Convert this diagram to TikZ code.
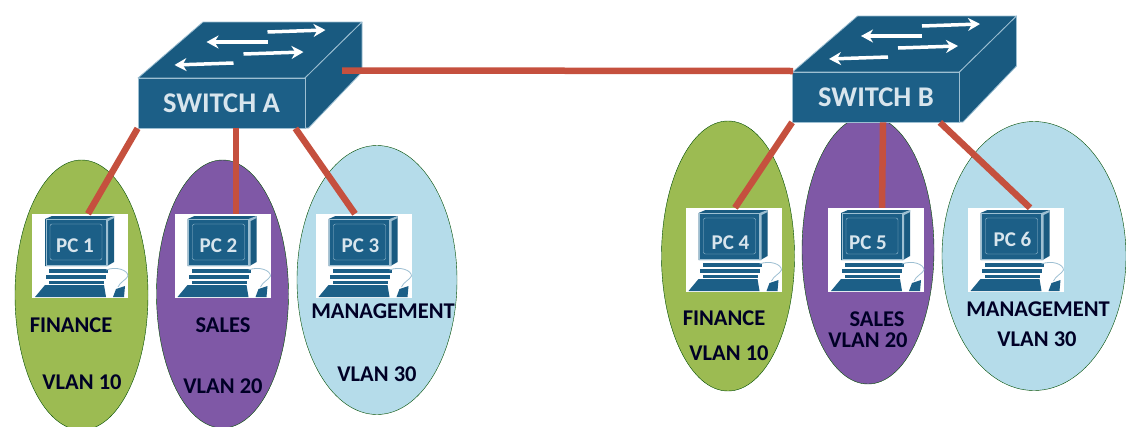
\documentclass[tikz,border=0pt]{standalone}
\usepackage{fontspec}
\setmainfont{Carlito}
\usetikzlibrary{arrows.meta,shapes.geometric,positioning}
\definecolor{swblue}{HTML}{1C5F87}
\definecolor{swdark}{HTML}{195A80}
\definecolor{swedge}{HTML}{9DBFD2}
\definecolor{wire}{HTML}{C5503E}
\definecolor{vgreen}{HTML}{9CBB52}
\definecolor{vpurple}{HTML}{7F58A6}
\definecolor{vblue}{HTML}{B5DCEA}
\tikzset{
  basic/.style   = {draw=black!70!green, thin, ellipse, inner sep=0pt},
  finance/.style = {basic, fill=vgreen, minimum width=133pt, minimum height=270pt},
  sales/.style   = {basic, fill=vpurple, minimum width=132pt, minimum height=268pt},
  mgmt/.style    = {basic, fill=vblue, minimum height=269pt},
  front/.style   = {draw=swedge, thick, fill=swblue, text=swedge!40!white, inner sep=0pt,
                   minimum width=167pt, minimum height=50pt, font=\bfseries\fontsize{28.5}{28.5}\selectfont},
  pcbox/.style   = {fill=white, inner sep=0pt, minimum width=96pt, minimum height=84pt},
  pclabel/.style = {text=swedge!40!white, inner sep=0pt, font=\bfseries\fontsize{21}{21}\selectfont},
  vtext/.style   = {inner sep=0pt, text=black!85!blue, font=\bfseries\fontsize{22.5}{22.5}\selectfont},
  link/.style    = {draw=wire, line width=6.5pt},
  flow/.style    = {draw=white, line width=3.5pt, -{Stealth[length=12pt,width=13pt]}},
  pics/switchbody/.style = {code={
    \draw[swedge, thick, fill=swdark, line join=round] (-83.5,-25) -- (-18.5,-81) -- (140.5,-81) -- (83.5,-25) -- cycle;
    \draw[swedge, thick, fill=swdark, line join=round] (83.5,-25) -- (140.5,-81) -- (140.5,-31) -- (87,25) -- (83.5,25) -- cycle;
    \draw[flow] (46,-71) -- (104,-73);
    \draw[flow] (46,-61) -- (-15,-61);
    \draw[flow] (22,-49) -- (82,-51);
    \draw[flow] (12,-40) -- (-47,-38);
  }},
  pics/pcicon/.style = {code={
    \node[pcbox] (-box) at (0,0) {};
    \begin{scope}[shift={(-48,-42)}]
      \fill[swdark] (13,5) -- (20,2) -- (82,2) -- (82,48) -- (75,52) -- (13,52) -- cycle;
      \fill[swedge] (74,5) -- (82,2) -- (82,4) -- (76,7) -- (76,52) -- (74,52) -- cycle;
      \draw[swedge, fill=swblue] (14,5) rectangle (74,51);
      \draw[swedge, fill=swblue, rounded corners=2pt] (18,10) rectangle (70,46);
      \fill[swblue] (17,55) rectangle (76,59);
      \fill[swblue] (14,61) rectangle (74,65);
      \fill[swblue] (17,67) rectangle (72,70);
      \fill[swblue] (3,83) -- (13,71) -- (72,71) -- (74,83) -- cycle;
      \fill[swblue] (81,83) -- (84,75) -- (93,72) -- (92,83) -- cycle;
      \draw[swedge, thick] (74,56) .. controls (84,52) and (96,56) .. (96,62) .. controls (94,66) and (88,68) .. (86,73);
    \end{scope}
  }}
}

\begin{document}
\begin{tikzpicture}[x=1pt,y=-1pt]
\useasboundingbox (0,0) rectangle (1126,426);
\node[finance] (vlan1) at (81.5,295) {};
\node[sales] (vlan2) at (222.5,294) {};
\node[mgmt, minimum width=160pt] (vlan3) at (377,280) {};
\node[finance] (vlan4) at (728,256) {};
\node[sales] (vlan5) at (868,250) {};
\node[mgmt, minimum width=184pt] (vlan6) at (1034,256) {};

\pic (pc1) at (80,256) {pcicon};
\pic (pc2) at (222.5,256) {pcicon};
\pic (pc3) at (363.5,256) {pcicon};
\pic (pc4) at (733.5,250) {pcicon};
\pic (pc5) at (876,250) {pcicon};
\pic (pc6) at (1015.5,250) {pcicon};
\node[pclabel] (pc1l) at ([xshift=-5pt,yshift=10pt]pc1-box.center) {PC 1};
\node[pclabel] (pc2l) at ([xshift=-4pt,yshift=10pt]pc2-box.center) {PC 2};
\node[pclabel] (pc3l) at ([xshift=-3pt,yshift=10pt]pc3-box.center) {PC 3};
\node[pclabel] (pc4l) at ([xshift=-3pt,yshift=7pt]pc4-box.center) {PC 4};
\node[pclabel] (pc5l) at ([xshift=-8pt,yshift=7pt]pc5-box.center) {PC 5};
\node[pclabel] (pc6l) at ([xshift=-3pt,yshift=11pt]pc6-box.center) {PC 6};

\pic at (221.5,103) {switchbody};
\pic at (876,97) {switchbody};
\node[front] (swa) at (221.5,103) {SWITCH A};
\node[front] (swb) at (876,97) {SWITCH B};

\coordinate (swaport) at (342,70.5);
\coordinate (swbport) at (793,71);
\draw[link] (swaport) -- (swbport);
\draw[link] (swa.south west) -- ([xshift=8pt]pc1-box.north);
\draw[link] ([xshift=14.5pt]swa.south) -- ([xshift=13.5pt]pc2-box.north);
\draw[link] ([xshift=-10pt]swa.south east) -- ([xshift=-8.5pt]pc3-box.north);
\draw[link] (swb.south west) -- ([xshift=1.5pt]pc4-box.north);
\draw[link] ([xshift=7pt]swb.south) -- ([xshift=6pt]pc5-box.north);
\draw[link] ([xshift=-20pt]swb.south east) -- ([xshift=14.5pt]pc6-box.north);

\node[vtext] (fin1) at (71,325) {FINANCE};
\node[vtext] (vl1) at (82,382) {VLAN 10};
\node[vtext] (sal2) at (223,325) {SALES};
\node[vtext] (vl2) at (223,386) {VLAN 20};
\node[vtext] (man3) at (383,311) {MANAGEMENT};
\node[vtext] (vl3) at (377,374) {VLAN 30};
\node[vtext] (fin4) at (724,318) {FINANCE};
\node[vtext] (vl4) at (729,353) {VLAN 10};
\node[vtext] (sal5) at (877,319) {SALES};
\node[vtext] (vl5) at (868,340) {VLAN 20};
\node[vtext] (man6) at (1038,309) {MANAGEMENT};
\node[vtext] (vl6) at (1037,339) {VLAN 30};
\end{tikzpicture}
\end{document}
